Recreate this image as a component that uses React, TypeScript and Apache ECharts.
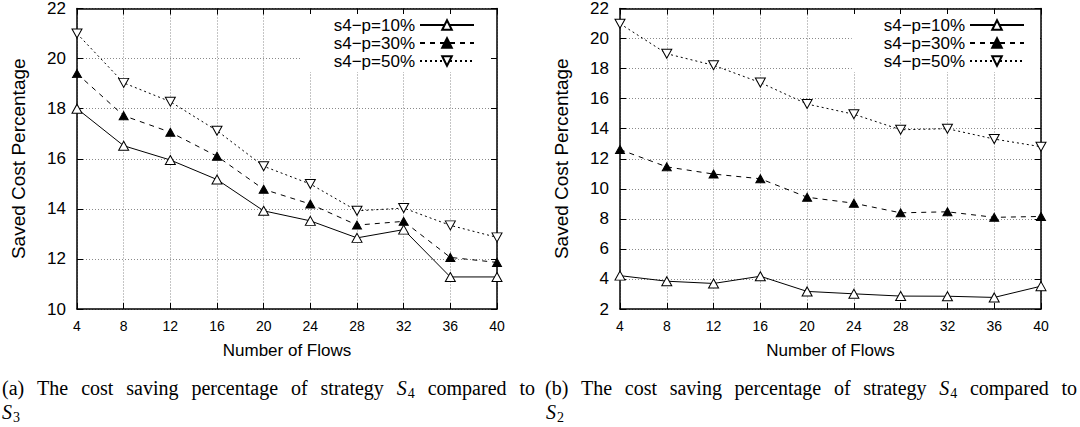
import React, { useEffect, useRef } from "react";
import * as echarts from "echarts";

const flows = [4, 8, 12, 16, 20, 24, 28, 32, 36, 40];
const seriesNames = ["s4\u2212p=10%", "s4\u2212p=30%", "s4\u2212p=50%"];

// (a) compared to S3
const leftP10 = [18.0, 16.52, 15.95, 15.17, 13.92, 13.52, 12.84, 13.17, 11.28, 11.28];
const leftP30 = [19.4, 17.72, 17.06, 16.1, 14.78, 14.19, 13.35, 13.5, 12.06, 11.86];
const leftP50 = [21.0, 19.03, 18.28, 17.12, 15.7, 14.99, 13.92, 14.03, 13.34, 12.86];
// (b) compared to S2
const rightP10 = [4.22, 3.85, 3.7, 4.18, 3.17, 3.01, 2.86, 2.85, 2.77, 3.52];
const rightP30 = [12.61, 11.46, 10.98, 10.67, 9.44, 9.04, 8.4, 8.47, 8.1, 8.16];
const rightP50 = [20.99, 18.99, 18.22, 17.07, 15.64, 14.96, 13.93, 14.0, 13.31, 12.8];

const xRange = { min: 4, max: 40, interval: 4 };
const leftYRange = { min: 10, max: 22, interval: 2 };
const rightYRange = { min: 2, max: 22, interval: 2 };

const xName = "Number of Flows";
const yName = "Saved Cost Percentage";
const captionA = ["(a)", "The", "cost", "saving", "percentage", "of", "strategy", "S|4", "compared", "to"];
const captionA2 = "S|3";
const captionB = ["(b)", "The", "cost", "saving", "percentage", "of", "strategy", "S|4", "compared", "to"];
const captionB2 = "S|2";

const SANS = "Liberation Sans, Arial, Helvetica, sans-serif";
const SERIF = "Liberation Serif, Times New Roman, serif";

const CAP_SIZE = 20;
const SUB_SIZE = 14;

let ctx: CanvasRenderingContext2D | null = null;
function measure(text: string, font: string): number {
  if (!ctx) ctx = document.createElement("canvas").getContext("2d");
  if (!ctx) return text.length * 8;
  ctx.font = font;
  return ctx.measureText(text).width;
}

function wordWidth(w: string): number {
  if (w.includes("|")) {
    const [a, b] = w.split("|");
    return (
      measure(a, `italic ${CAP_SIZE}px ${SERIF}`) + 1 + measure(b, `${SUB_SIZE}px ${SERIF}`)
    );
  }
  return measure(w, `${CAP_SIZE}px ${SERIF}`);
}

function wordElems(w: string, x: number, y: number): any[] {
  if (w.includes("|")) {
    const [a, b] = w.split("|");
    const wa = measure(a, `italic ${CAP_SIZE}px ${SERIF}`);
    return [
      {
        type: "text",
        x,
        y,
        style: {
          text: a,
          fontFamily: SERIF,
          fontSize: CAP_SIZE,
          fontStyle: "italic",
          fill: "#000",
          align: "left",
          verticalAlign: "middle",
        },
      },
      {
        type: "text",
        x: x + wa + 1,
        y: y + 5,
        style: {
          text: b,
          fontFamily: SERIF,
          fontSize: SUB_SIZE,
          fill: "#000",
          align: "left",
          verticalAlign: "middle",
        },
      },
    ];
  }
  return [
    {
      type: "text",
      x,
      y,
      style: {
        text: w,
        fontFamily: SERIF,
        fontSize: CAP_SIZE,
        fill: "#000",
        align: "left",
        verticalAlign: "middle",
      },
    },
  ];
}

function justified(words: string[], x0: number, x1: number, y: number): any[] {
  const widths = words.map(wordWidth);
  const total = widths.reduce((s, v) => s + v, 0);
  const gap = Math.max(4, (x1 - x0 - total) / (words.length - 1));
  const out: any[] = [];
  let x = x0;
  words.forEach((w, i) => {
    out.push(...wordElems(w, x, y));
    x += widths[i] + gap;
  });
  return out;
}

const gridLine = { show: true, lineStyle: { color: "#8a8a8a", width: 1, type: [1, 2] } };
const frameLine = { show: true, lineStyle: { color: "#000", width: 1.5 } };
const innerTick = { show: true, inside: true, length: 6, lineStyle: { color: "#000", width: 1 } };

function makeSeries(name: string, data: number[], idx: number, gridIdx: number): any {
  const common: any = {
    type: "line",
    name,
    xAxisIndex: gridIdx * 2,
    yAxisIndex: gridIdx * 2,
    data: flows.map((f, i) => [f, data[i]]),
    color: "#000",
    symbol: "triangle",
    showSymbol: true,
    z: 3,
  };
  if (idx === 0) {
    return {
      ...common,
      symbolSize: [10, 9],
      itemStyle: { color: "#fff", borderColor: "#000", borderWidth: 1 },
      lineStyle: { color: "#000", width: 1, type: "solid" },
    };
  }
  if (idx === 1) {
    return {
      ...common,
      symbolSize: [9, 8],
      itemStyle: { color: "#000", borderColor: "#000", borderWidth: 1 },
      lineStyle: { color: "#000", width: 1, type: [5, 5] },
    };
  }
  return {
    ...common,
    symbolSize: [10, 9],
    symbolRotate: 180,
    itemStyle: { color: "#fff", borderColor: "#000", borderWidth: 1 },
    lineStyle: { color: "#000", width: 1, type: [2, 3] },
  };
}

function xAxes(gridIndex: number): any[] {
  return [
    {
      type: "value",
      gridIndex,
      position: "bottom",
      ...xRange,
      axisLine: frameLine,
      axisTick: innerTick,
      axisLabel: { fontFamily: SANS, fontSize: 14, color: "#000", margin: 10 },
      splitLine: gridLine,
      name: xName,
      nameLocation: "middle",
      nameGap: 33,
      nameTextStyle: { fontFamily: SANS, fontSize: 17, color: "#000" },
    },
    {
      type: "value",
      gridIndex,
      position: "top",
      ...xRange,
      axisLine: frameLine,
      axisTick: innerTick,
      axisLabel: { show: false },
      splitLine: { show: false },
    },
  ];
}

function yAxes(gridIndex: number, range: any): any[] {
  return [
    {
      type: "value",
      gridIndex,
      position: "left",
      ...range,
      axisLine: frameLine,
      axisTick: innerTick,
      axisLabel: { fontFamily: SANS, fontSize: 17, color: "#000", margin: 11 },
      splitLine: gridLine,
      name: yName,
      nameLocation: "middle",
      nameGap: 49,
      nameRotate: 90,
      nameTextStyle: { fontFamily: SANS, fontSize: 19, color: "#000" },
    },
    {
      type: "value",
      gridIndex,
      position: "right",
      ...range,
      axisLine: frameLine,
      axisTick: innerTick,
      axisLabel: { show: false },
      splitLine: { show: false },
    },
  ];
}

function legendAt(right: number): any {
  return {
    orient: "vertical",
    right,
    top: 14,
    align: "right",
    itemWidth: 54,
    itemHeight: 12,
    itemGap: 0,
    selectedMode: false,
    backgroundColor: "#fff",
    padding: [2, 15, 2, 32],
    textStyle: { fontFamily: SANS, fontSize: 17, color: "#000", lineHeight: 18 },
    data: seriesNames,
    z: 5,
  };
}

export default function App() {
  const ref = useRef<HTMLDivElement>(null);
  useEffect(() => {
    document.body.style.margin = "0";
    if (!ref.current) return;
    const chart = echarts.init(ref.current, undefined, { renderer: "svg" });
    const graphics: any[] = [
      ...justified(captionA, 2, 535, 388),
      ...wordElems(captionA2, 2, 412),
      ...justified(captionB, 545, 1077, 388),
      ...wordElems(captionB2, 546, 412),
    ];
    chart.setOption({
      animation: false,
      backgroundColor: "#fff",
      grid: [
        { left: 77, right: 1080 - 497, top: 6, bottom: 427 - 309, containLabel: false },
        { left: 620, right: 1080 - 1041, top: 6, bottom: 427 - 309, containLabel: false },
      ],
      xAxis: [...xAxes(0), ...xAxes(1)],
      yAxis: [...yAxes(0, leftYRange), ...yAxes(1, rightYRange)],
      legend: [legendAt(1080 - 490), legendAt(1080 - 1040)],
      series: [
        makeSeries(seriesNames[0], leftP10, 0, 0),
        makeSeries(seriesNames[1], leftP30, 1, 0),
        makeSeries(seriesNames[2], leftP50, 2, 0),
        makeSeries(seriesNames[0], rightP10, 0, 1),
        makeSeries(seriesNames[1], rightP30, 1, 1),
        makeSeries(seriesNames[2], rightP50, 2, 1),
      ],
      graphic: graphics,
    });
    return () => chart.dispose();
  }, []);
  return <div ref={ref} style={{ width: 1080, height: 427 }} />;
}
